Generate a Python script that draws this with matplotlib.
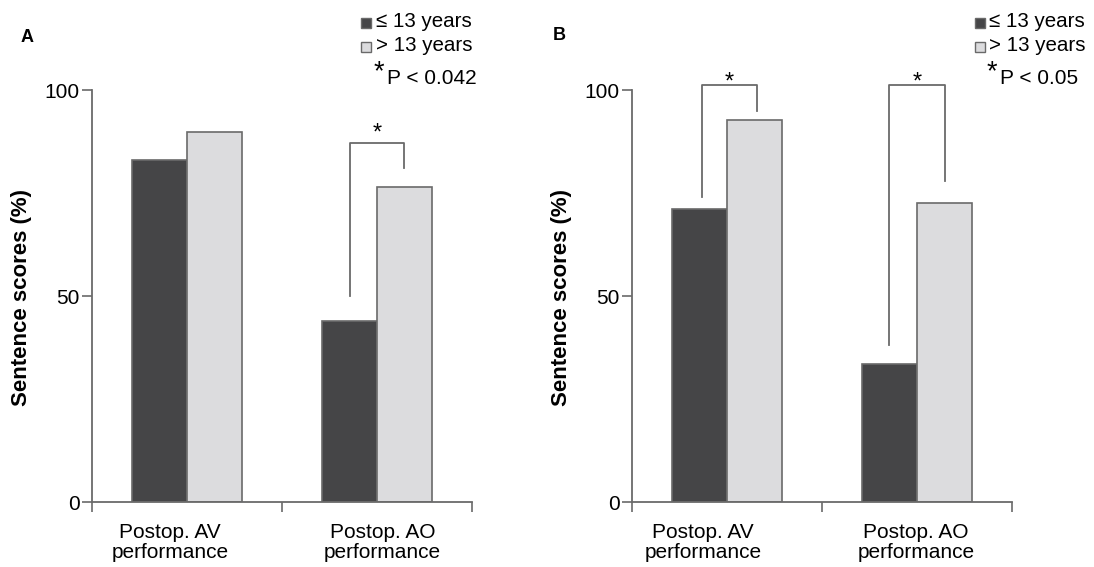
import matplotlib
matplotlib.use("Agg")
import matplotlib.pyplot as plt
import numpy as np

plt.rcParams['font.family'] = ['Liberation Sans', 'DejaVu Sans']

categories = ['Postop. AV\nperformance', 'Postop. AO\nperformance']
series_names = ['\u2264 13 years', '> 13 years']
# panel A
a_young = [83, 44]
a_old = [89.7, 76.4]
# panel B
b_young = [71, 33.4]
b_old = [92.6, 72.5]
yticks = [0, 50, 100]

dark = '#454547'
light = '#dcdcde'
edge = '#6a6a6a'

W, H = 1094, 567
fig = plt.figure(figsize=(W / 100, H / 100), dpi=100)


def px(x0, y0, x1, y1):
    return [x0 / W, 1 - y1 / H, (x1 - x0) / W, (y1 - y0) / H]


def panel(ax, young, old, label_pos, brackets):
    x = np.array([0.5, 1.5])
    w = 0.29
    ax.bar(x - w / 2, young, w, color=dark, edgecolor=edge, linewidth=1.2)
    ax.bar(x + w / 2, old, w, color=light, edgecolor=edge, linewidth=1.2)
    ax.set_xlim(0, 2)
    ax.set_ylim(0, 100)
    for s in ['top', 'right']:
        ax.spines[s].set_visible(False)
    for s in ['left', 'bottom']:
        ax.spines[s].set_color(edge)
        ax.spines[s].set_linewidth(1.3)
    ax.set_xticks([0, 1, 2])
    ax.set_xticklabels([])
    ax.set_xticks(label_pos, minor=True)
    ax.set_xticklabels(categories, minor=True, fontsize=15, linespacing=1.1)
    ax.tick_params(axis='x', which='minor', length=0, pad=15)
    ax.tick_params(axis='x', which='major', length=7, color=edge, width=1.2)
    ax.set_yticks(yticks)
    ax.set_yticklabels([str(t) for t in yticks], fontsize=15)
    ax.tick_params(axis='y', length=7, color=edge, width=1.2, pad=2)
    for (xl, xr, yl, yr, ytop, dy) in brackets:
        ax.plot([xl, xl, xr, xr], [yl, ytop, ytop, yr], color=edge, lw=1.3, clip_on=False)
        ax.text((xl + xr) / 2, ytop + dy, '*', ha='center', va='baseline',
                fontsize=17, clip_on=False)


axA = fig.add_axes(px(92, 90, 472, 502))
panel(axA, a_young, a_old, [0.41, 1.53], [(1.358, 1.642, 50, 81, 87.2, 0.7)])

axB = fig.add_axes(px(632, 90, 1012, 502))
panel(axB, b_young, b_old, [0.374, 1.495],
      [(0.367, 0.66, 74, 95, 101.2, -0.8),
       (1.353, 1.647, 38, 78, 101.2, -0.8)])

for xl in [22, 562]:
    fig.text(xl / W, 1 - 298 / H, 'Sentence scores (%)', rotation=90, fontsize=16,
             fontweight='bold', ha='center', va='center')

fig.text(21 / W, 1 - 42 / H, 'A', fontsize=13, fontweight='bold', va='baseline')
fig.text(553 / W, 1 - 40 / H, 'B', fontsize=13, fontweight='bold', va='baseline')


def legend(xsq, xtxt, ptext):
    for i, (name, c) in enumerate(zip(series_names, [dark, light])):
        base = 27 + i * 24
        fig.patches.append(plt.Rectangle((xsq / W, 1 - (base + 1) / H), 10 / W, 10 / H,
                                         transform=fig.transFigure, facecolor=c,
                                         edgecolor=edge, lw=1))
        fig.text(xtxt / W, 1 - base / H, name, fontsize=14.8, va='baseline')
    fig.text((xtxt + 3) / W, 1 - 79 / H, '*', fontsize=19.5, ha='center', va='baseline')
    fig.text((xtxt + 11) / W, 1 - 84 / H, ptext, fontsize=15, va='baseline')


legend(361, 376, 'P < 0.042')
legend(975, 989, 'P < 0.05')

fig.savefig('out.png', dpi=100)
